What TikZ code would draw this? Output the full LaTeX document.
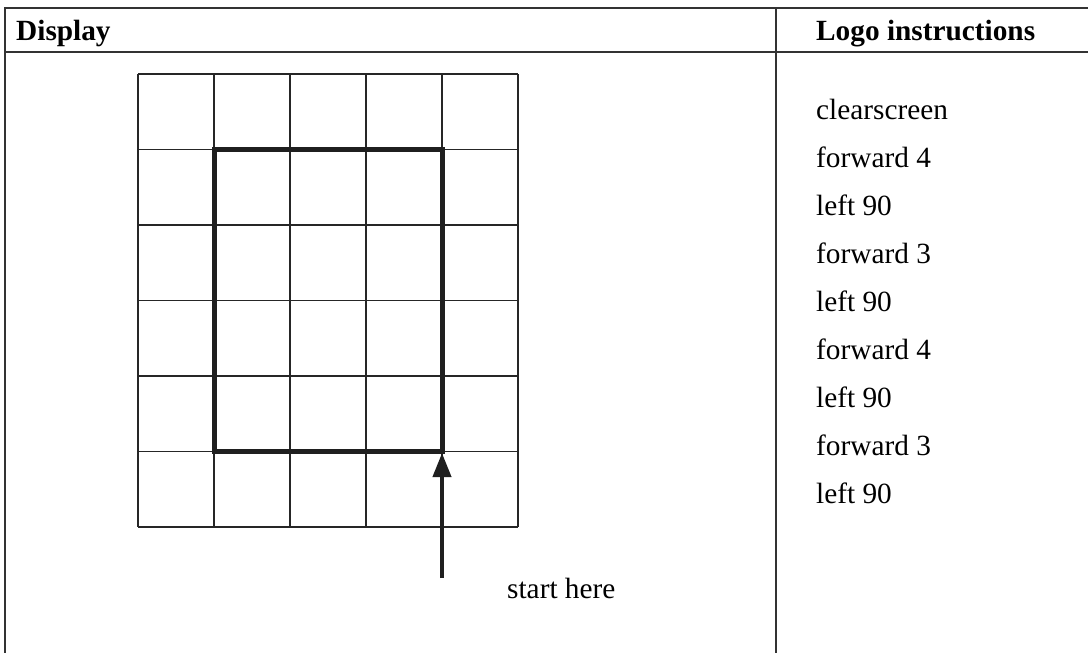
\documentclass[tikz,border=0pt]{standalone}
\usepackage{fontspec}
\setmainfont{Liberation Serif}
\usetikzlibrary{arrows.meta}
\begin{document}
\begin{tikzpicture}[x=1pt,y=-1pt,
  tableline/.style={line width=2pt,draw=black!80},
  gridline/.style={line width=1.3pt,draw=black!85},
  pathline/.style={line width=5pt,draw=black!88,line join=miter},
  arrowline/.style={line width=4pt,draw=black!88,-{Triangle[length=24pt,width=18pt]}},
  txt/.style={anchor=base west,inner sep=0pt,font=\fontsize{29.3}{35}\selectfont},
  head/.style={txt,font=\fontsize{29.3}{35}\selectfont\bfseries}]
\useasboundingbox (0,0) rectangle (1088,653);
\fill[white] (0,0) rectangle (1088,653);
% table
\draw[tableline] (1088,8) -- (5,8) -- (5,653);
\draw[tableline] (5,52) -- (1088,52);
\draw[tableline] (776,8) -- (776,653);
\node[head] (hdisp) at (16,40) {Display};
\node[head] (hlogo) at (816,40) {Logo instructions};
% grid
\foreach \i in {0,...,5} \draw[gridline] ({138+76*\i},74) -- ({138+76*\i},527);
\foreach \j in {0,...,6} \draw[gridline] (138,{74+75.5*\j}) -- (518,{74+75.5*\j});
% path
\draw[pathline] (214,149.5) rectangle (442,451);
\coordinate (corner) at (442,453);
\coordinate (start) at (442,578);
\draw[arrowline] (start) -- (corner);
\node[txt] (st) at (507,598) {start here};
% instructions
\node[txt] (i1) at (816,119) {clearscreen};
\node[txt] (i2) at (816,167) {forward 4};
\node[txt] (i3) at (816,215) {left 90};
\node[txt] (i4) at (816,263) {forward 3};
\node[txt] (i5) at (816,311) {left 90};
\node[txt] (i6) at (816,359) {forward 4};
\node[txt] (i7) at (816,407) {left 90};
\node[txt] (i8) at (816,455) {forward 3};
\node[txt] (i9) at (816,503) {left 90};
\end{tikzpicture}
\end{document}
